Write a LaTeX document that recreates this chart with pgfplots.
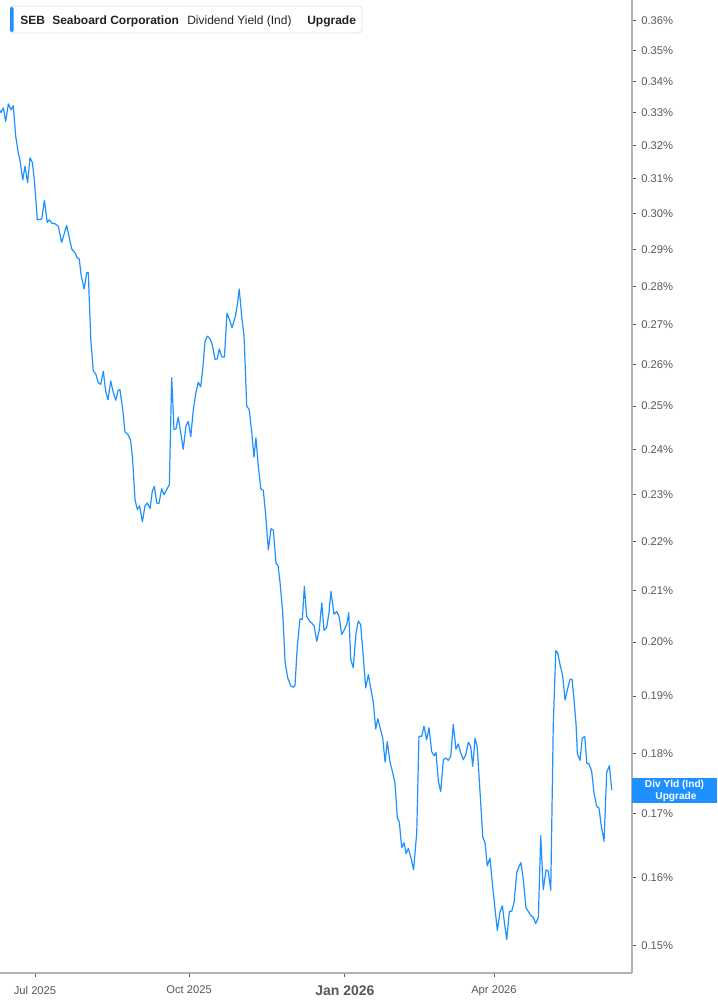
\documentclass[border=0pt]{standalone}
\usepackage{pgfplots}
\pgfplotsset{compat=1.18}
\usepackage{fontspec}
\setmainfont{Liberation Sans}
\definecolor{lineblue}{RGB}{30,144,255}
\definecolor{axgray}{RGB}{178,178,178}
\definecolor{lblgray}{RGB}{88,88,88}
\definecolor{hdrtext}{RGB}{34,34,34}
\definecolor{hdrframe}{RGB}{224,224,224}
% x = days since 1 Jul 2025, y = dividend yield in percent
\begin{document}
\begin{tikzpicture}
\begin{axis}[
  at={(0,0)}, anchor=south west,
  scale only axis, width=474pt, height=729.75pt,
  ymode=log,
  xmin=-20.9, xmax=356.4,
  ymin=0.1462, ymax=0.3672,
  axis x line*=bottom, axis y line*=right,
  axis line style={axgray, line width=1.5pt},
  tick align=outside, major tick length=3pt,
  tick style={lblgray, line width=0.6pt},
  yminorticks=false, xminorticks=false,
  xtick={0,92,185,274},
  xticklabels={Jul 2025, Oct 2025, {\fontsize{10.5}{12}\selectfont\bfseries Jan 2026}, Apr 2026},
  xticklabel style={font=\fontsize{8.4}{10}\selectfont, text=lblgray, yshift=-3.3pt},
  ytick={0.15,0.16,0.17,0.18,0.19,0.20,0.21,0.22,0.23,0.24,0.25,0.26,0.27,0.28,0.29,0.30,0.31,0.32,0.33,0.34,0.35,0.36},
  yticklabels={0.15\%,0.16\%,0.17\%,0.18\%,0.19\%,0.20\%,0.21\%,0.22\%,0.23\%,0.24\%,0.25\%,0.26\%,0.27\%,0.28\%,0.29\%,0.30\%,0.31\%,0.32\%,0.33\%,0.34\%,0.35\%,0.36\%},
  yticklabel style={font=\fontsize{8.4}{10}\selectfont, text=lblgray, anchor=west, xshift=0.5pt},
]
\addplot[lineblue, line width=0.9pt, line join=round] coordinates {
(-20.9,0.3307) (-20.3,0.3301) (-18.9,0.3315) (-17.5,0.3273) (-15.9,0.3328)
(-14.3,0.3309) (-13.0,0.3322) (-11.5,0.3227) (-10.0,0.3177) (-9.0,0.3157)
(-7.3,0.3097) (-6.0,0.3137) (-4.4,0.3089) (-3.0,0.3162) (-1.6,0.3149)
(-0.4,0.3097) (1.4,0.2982) (4.0,0.2984) (5.6,0.3037) (7.3,0.2975)
(8.5,0.2982) (10.0,0.2973) (11.9,0.2971) (13.9,0.2964) (15.9,0.2919)
(18.9,0.2966) (21.9,0.2901) (23.9,0.2890) (25.3,0.2876) (26.4,0.2874)
(27.5,0.2831) (29.3,0.2793) (30.9,0.2837) (31.8,0.2837) (33.3,0.2663)
(34.8,0.2584) (36.2,0.2578) (37.8,0.2556) (39.2,0.2552) (40.8,0.2584)
(42.2,0.2535) (43.6,0.2515) (45.2,0.2560) (46.7,0.2533) (48.2,0.2514)
(49.7,0.2538) (50.7,0.2539) (52.4,0.2491) (53.7,0.2440) (55.5,0.2433)
(57.0,0.2422) (58.2,0.2381) (59.7,0.2288) (61.1,0.2267) (62.4,0.2275)
(64.1,0.2241) (65.7,0.2275) (67.0,0.2281) (68.7,0.2269) (70.0,0.2306)
(71.2,0.2317) (72.7,0.2281) (74.0,0.2280) (75.6,0.2312) (77.0,0.2299)
(78.6,0.2310) (80.2,0.2321) (81.6,0.2568) (83.0,0.2445) (84.2,0.2447)
(85.5,0.2474) (87.2,0.2433) (88.5,0.2400) (90.1,0.2453) (91.5,0.2464)
(93.0,0.2429) (94.5,0.2491) (96.1,0.2533) (97.5,0.2557) (98.9,0.2546)
(100.1,0.2588) (101.5,0.2658) (102.9,0.2671) (104.5,0.2664) (105.8,0.2650)
(107.5,0.2613) (108.8,0.2614) (110.0,0.2639) (111.5,0.2619) (113.1,0.2619)
(114.6,0.2730) (116.4,0.2710) (117.6,0.2692) (119.7,0.2723) (120.8,0.2752)
(121.9,0.2793) (123.4,0.2722) (124.8,0.2671) (126.4,0.2499) (127.8,0.2493)
(129.4,0.2439) (130.7,0.2382) (131.9,0.2426) (133.3,0.2362) (134.8,0.2312)
(136.3,0.2308) (137.7,0.2256) (139.3,0.2182) (140.9,0.2226) (142.3,0.2223)
(143.9,0.2154) (145.1,0.2150) (146.3,0.2115) (147.9,0.2056) (149.3,0.1961)
(150.9,0.1933) (152.7,0.1919) (154.2,0.1916) (155.2,0.1919) (156.6,0.1992)
(158.2,0.2044) (159.6,0.2043) (160.8,0.2108) (162.2,0.2049) (163.8,0.2040)
(165.2,0.2036) (166.6,0.2031) (168.2,0.2001) (169.7,0.2023) (171.2,0.2075)
(172.5,0.2022) (174.1,0.2027) (175.5,0.2056) (176.7,0.2098) (178.5,0.2053)
(180.1,0.2058) (181.5,0.2049) (183.1,0.2014) (184.5,0.2022) (186.1,0.2033)
(187.3,0.2056) (188.5,0.1967) (190.0,0.1952) (191.6,0.2016) (193.0,0.2040)
(194.4,0.2033) (196.0,0.1971) (197.4,0.1915) (199.0,0.1939) (200.4,0.1915)
(202.0,0.1888) (203.4,0.1842) (204.6,0.1860) (206.0,0.1844) (207.6,0.1826)
(209.0,0.1785) (210.3,0.1820) (211.9,0.1786) (213.3,0.1770) (214.9,0.1750)
(216.3,0.1693) (217.5,0.1686) (218.9,0.1646) (220.3,0.1654) (221.5,0.1637)
(222.9,0.1645) (224.5,0.1630) (226.0,0.1612) (227.9,0.1670) (229.2,0.1829)
(230.9,0.1829) (232.2,0.1847) (233.8,0.1823) (235.2,0.1844) (236.8,0.1803)
(238.2,0.1796) (239.4,0.1801) (240.8,0.1753) (242.2,0.1736) (243.8,0.1789)
(245.2,0.1792) (246.7,0.1788) (248.2,0.1795) (249.7,0.1850) (251.3,0.1807)
(252.7,0.1816) (254.1,0.1801) (255.7,0.1789) (257.1,0.1797) (258.7,0.1819)
(260.1,0.1812) (261.3,0.1778) (262.7,0.1826) (264.0,0.1811) (265.7,0.1734)
(267.3,0.1663) (268.7,0.1653) (270.0,0.1618) (271.6,0.1630) (273.2,0.1587)
(274.6,0.1554) (276.0,0.1522) (277.6,0.1549) (279.0,0.1558) (280.2,0.1534)
(281.6,0.1509) (283.2,0.1550) (284.6,0.1550) (286.0,0.1563) (287.6,0.1608)
(289.1,0.1618) (290.1,0.1623) (291.5,0.1597) (293.1,0.1555) (294.5,0.1550)
(295.9,0.1544) (297.5,0.1541) (298.9,0.1532) (300.5,0.1541) (301.9,0.1665)
(303.4,0.1582) (305.1,0.1612) (306.4,0.1610) (307.9,0.1581) (309.4,0.1850)
(310.9,0.1984) (312.0,0.1980) (313.4,0.1958) (315.0,0.1937) (316.4,0.1893)
(317.8,0.1911) (319.4,0.1931) (320.6,0.1931) (321.8,0.1893) (323.0,0.1850)
(323.8,0.1799) (325.4,0.1788) (326.7,0.1826) (328.2,0.1829) (329.4,0.1783)
(330.7,0.1782) (332.3,0.1770) (333.7,0.1734) (335.3,0.1712) (336.7,0.1709)
(337.9,0.1683) (339.7,0.1656) (341.3,0.1768) (342.9,0.1779) (344.3,0.1738)
};
\end{axis}
\begin{scope}[x=0.75pt, y=-0.75pt, yshift=729.75pt]
  % header box
  \draw[fill=white, draw=hdrframe, line width=0.6pt, rounded corners=2.5pt] (10,6) rectangle (362,33);
  \fill[lineblue, rounded corners=1pt] (10,7) rectangle (13.5,32);
  \node[anchor=base west, inner sep=0pt, text=hdrtext, font=\fontsize{9}{11}\selectfont\bfseries] at (20,24.5) {SEB};
  \node[anchor=base west, inner sep=0pt, text=hdrtext, font=\fontsize{9}{11}\selectfont\bfseries] at (52,24.5) {Seaboard Corporation};
  \node[anchor=base west, inner sep=0pt, text=hdrtext, font=\fontsize{9}{11}\selectfont] at (187,24.5) {Dividend Yield (Ind)};
  \node[anchor=base west, inner sep=0pt, text=hdrtext, font=\fontsize{9}{11}\selectfont\bfseries] at (307,24.5) {Upgrade};
  % last value tag
  \fill[lineblue] (632,778) rectangle (717,803);
  \node[inner sep=0pt, text=white, font=\fontsize{7.6}{9}\selectfont\bfseries] at (674.5,785) {Div Yld (Ind)};
  \node[inner sep=0pt, text=white, font=\fontsize{7.6}{9}\selectfont\bfseries] at (676,796.5) {Upgrade};
\end{scope}
\pgfresetboundingbox
\path[use as bounding box] (0pt,-24pt) rectangle (537.75pt,729.75pt);
\end{tikzpicture}
\end{document}
